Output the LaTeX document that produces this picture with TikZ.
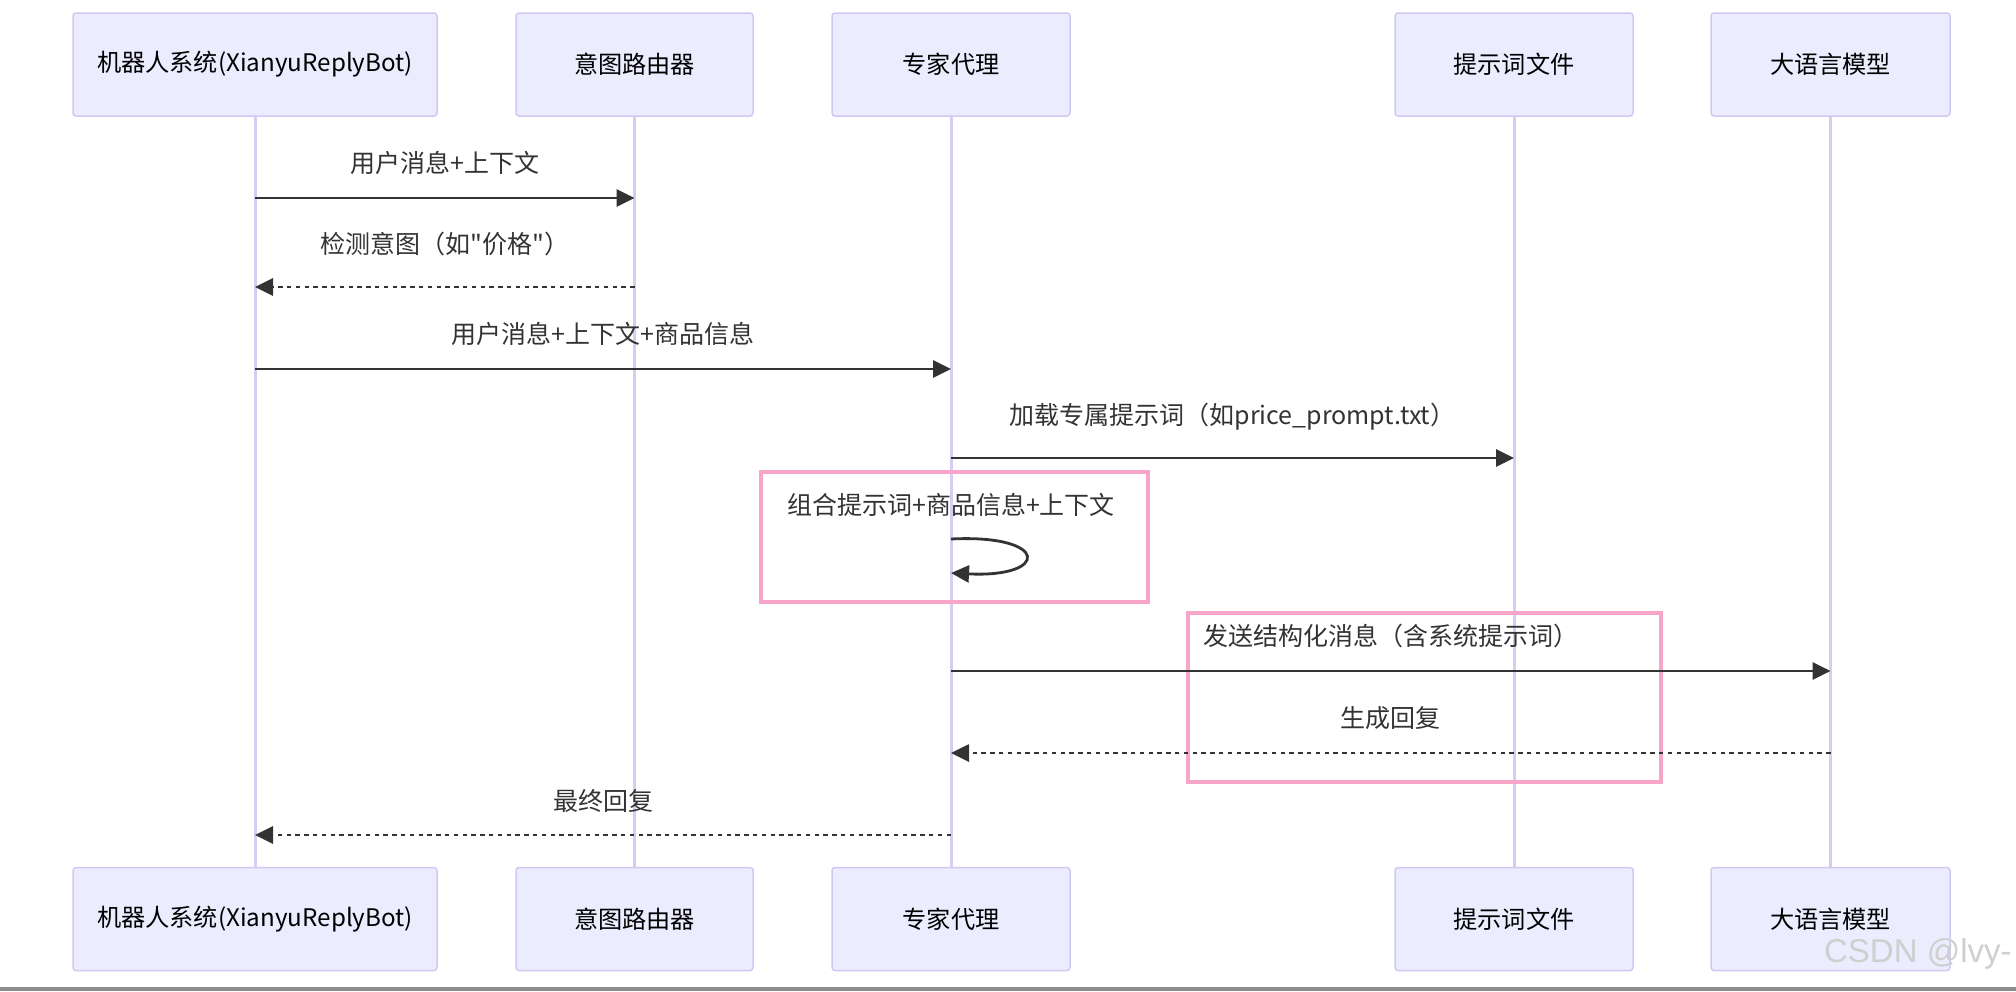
\documentclass[tikz,border=0pt]{standalone}
\usepackage{fontspec}
\usepackage{xcolor}
\usepackage{tikz}
\newfontfamily\cjk{Noto Sans CJK SC}
\newfontfamily\wmfont{Liberation Sans}
\usetikzlibrary{arrows.meta, positioning}

\definecolor{actorfill}{HTML}{ECECFF}
\definecolor{actorline}{HTML}{D2C8F2}
\definecolor{lifeline}{HTML}{D8CCF5}
\definecolor{msgline}{HTML}{333333}
\definecolor{notepink}{HTML}{F7A6C9}
\definecolor{bargray}{HTML}{8C8C8C}

\begin{document}
\begin{tikzpicture}[x=0.5pt, y=-0.5pt,
    actor/.style={rectangle, draw=actorline, line width=0.75pt, fill=actorfill, rounded corners=1.5pt, minimum height=51.5pt, inner sep=0pt, text=black, font=\cjk\fontsize{12.1}{15}\selectfont},
    life/.style={draw=lifeline, line width=1.5pt},
    msg/.style={draw=msgline, line width=1.4pt, -{Triangle[length=9pt,width=8.5pt]}},
    reply/.style={msg, dash pattern=on 2.2pt off 2.2pt},
    msgtext/.style={text=msgline, inner sep=0pt, font=\cjk\fontsize{12.5}{15}\selectfont},
    hilite/.style={draw=notepink, line width=1.6pt}]

    \fill[white] (0,0) rectangle (2016,991);
    \useasboundingbox (0,0) rectangle (2016,991);

    % participants
    \node (bot) [actor, minimum width=182pt] at (255,64.5) {机器人系统(XianyuReplyBot)};
    \node (router) [actor, minimum width=118.5pt] at (634.5,64.5) {意图路由器};
    \node (expert) [actor, minimum width=119pt] at (951,64.5) {专家代理};
    \node (prompt) [actor, minimum width=119pt] at (1514,64.5) {提示词文件};
    \node (llm) [actor, minimum width=119.5pt] at (1830.5,64.5) {大语言模型};

    \node (botB) [actor, minimum width=182pt] at (255,919) {机器人系统(XianyuReplyBot)};
    \node (routerB) [actor, minimum width=118.5pt] at (634.5,919) {意图路由器};
    \node (expertB) [actor, minimum width=119pt] at (951,919) {专家代理};
    \node (promptB) [actor, minimum width=119pt] at (1514,919) {提示词文件};
    \node (llmB) [actor, minimum width=119.5pt] at (1830.5,919) {大语言模型};

    % lifelines
    \draw[life] (bot) -- (botB);
    \draw[life] (router) -- (routerB);
    \draw[life] (expert) -- (expertB);
    \draw[life] (prompt) -- (promptB);
    \draw[life] (llm) -- (llmB);

    % highlighted areas
    \draw[hilite] (761,472) rectangle (1148,602);
    \draw[hilite] (1188,613) rectangle (1661,782);

    % messages
    \coordinate (m1s) at (bot |- 0,198);
    \coordinate (m1e) at (router |- 0,198);
    \draw[msg] (m1s) -- (m1e) node[msgtext, midway, yshift=17.75pt] (t1) {用户消息+上下文};

    \coordinate (m2s) at (router |- 0,287);
    \coordinate (m2e) at (bot |- 0,287);
    \draw[reply] (m2s) -- (m2e) node[msgtext, midway, yshift=21.5pt] (t2) {检测意图（如"价格"）};

    \coordinate (m3s) at (bot |- 0,369);
    \coordinate (m3e) at (expert |- 0,369);
    \draw[msg] (m3s) -- (m3e) node[msgtext, midway, yshift=17.5pt] (t3) {用户消息+上下文+商品信息};

    \coordinate (m4s) at (expert |- 0,458);
    \coordinate (m4e) at (prompt |- 0,458);
    \draw[msg] (m4s) -- (m4e) node[msgtext, midway, yshift=20.5pt] (t4) {加载专属提示词（如price\_prompt.txt）};

    % self call
    \node (t5) [msgtext] at (expert |- 0,505) {组合提示词+商品信息+上下文};
    \coordinate (m5s) at (expert |- 0,539);
    \coordinate (m5e) at (expert |- 0,573);
    \draw[msg] (m5s) .. controls +(99,-5) and +(99,5) .. (m5e);

    \coordinate (m6s) at (expert |- 0,671);
    \coordinate (m6e) at (llm |- 0,671);
    \draw[msg] (m6s) -- (m6e) node[msgtext, midway, yshift=17.5pt] (t6) {发送结构化消息（含系统提示词）};

    \coordinate (m7s) at (llm |- 0,753);
    \coordinate (m7e) at (expert |- 0,753);
    \draw[reply] (m7s) -- (m7e) node[msgtext, midway, yshift=17.5pt] (t7) {生成回复};

    \coordinate (m8s) at (expert |- 0,835);
    \coordinate (m8e) at (bot |- 0,835);
    \draw[reply] (m8s) -- (m8e) node[msgtext, midway, yshift=17pt] (t8) {最终回复};

    % watermark and bottom edge
    \node (wm) [anchor=east, inner sep=0pt, text=gray!38, font=\wmfont\fontsize{16.5}{18}\selectfont] at (2012,954) {CSDN @lvy-};
    \fill[bargray] (0,987) rectangle (2016,991);
\end{tikzpicture}
\end{document}
